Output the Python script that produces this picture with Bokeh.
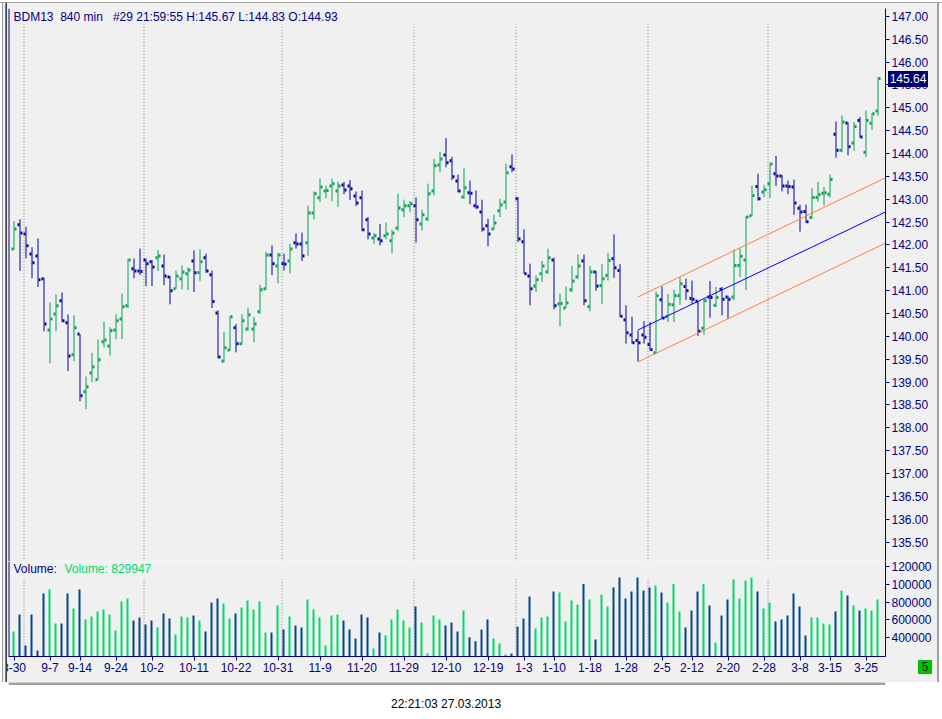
from bokeh.plotting import figure
from bokeh.models import ColumnDataSource, Range1d, FixedTicker, Label, Span, NumeralTickFormatter, Div
from bokeh.layouts import column
from bokeh.embed import file_html
from bokeh.resources import INLINE

# ---------------- data ----------------
opens = [141.91, 142.44, 142.24, 141.80, 141.76, 141.26, 140.14, 140.49, 140.78, 140.30,
         139.60, 140.05, 138.79, 139.20, 139.05, 139.88, 139.79, 140.14, 140.38, 140.67,
         141.48, 141.43, 141.67, 141.63, 141.72, 141.54, 141.30, 141.04, 141.26, 141.37,
         141.65, 141.39, 141.72, 141.35, 140.51, 139.46, 139.70, 140.19, 139.84, 140.16,
         140.16, 140.54, 141.04, 141.78, 141.54, 141.59, 141.65, 142.05, 142.02, 142.05,
         142.70, 143.03, 143.18, 143.29, 143.18, 143.31, 143.29, 143.07, 143.03, 142.55,
         142.15, 142.13, 142.20, 142.09, 142.37, 142.77, 142.86, 142.86, 142.46, 142.57,
         143.18, 143.75, 143.97, 143.84, 143.40, 143.05, 143.14, 142.86, 142.72, 142.42,
         142.35, 142.75, 142.94, 143.71, 143.01, 142.07, 141.32, 141.10, 141.37, 141.41,
         141.67, 140.71, 140.62, 141.02, 141.30, 141.65, 140.65, 141.41, 141.11, 141.33,
         141.70, 141.44, 140.36, 140.03, 139.91, 140.03, 139.82, 139.64, 140.80, 140.43,
         140.69, 140.89, 141.09, 140.83, 140.77, 140.18, 140.86, 140.68, 141.03, 140.86,
         140.86, 141.55, 141.67, 142.64, 143.28, 143.16, 143.34, 143.56, 143.51, 143.29,
         143.27, 142.80, 142.73, 142.60, 143.04, 143.13, 143.11, 144.42, 144.07, 144.67,
         144.23, 144.72, 144.03, 144.66, 144.93]
highs = [142.52, 142.56, 142.40, 141.95, 142.14, 141.28, 140.74, 140.92, 140.96, 140.48,
         140.46, 140.05, 139.12, 139.64, 139.93, 140.32, 140.20, 140.48, 140.94, 141.69,
         141.70, 141.92, 141.70, 141.67, 141.89, 141.79, 141.32, 141.44, 141.55, 141.51,
         141.88, 141.90, 141.81, 141.44, 140.57, 140.10, 140.45, 140.27, 140.48, 140.63,
         140.43, 141.13, 141.85, 141.99, 141.83, 141.81, 142.02, 142.25, 142.27, 142.86,
         143.17, 143.45, 143.30, 143.45, 143.38, 143.38, 143.42, 143.17, 143.19, 142.61,
         142.26, 142.46, 142.49, 142.33, 143.12, 142.99, 142.96, 143.04, 142.77, 143.34,
         143.88, 144.04, 144.34, 143.93, 143.54, 143.69, 143.41, 143.19, 142.99, 142.57,
         142.66, 143.01, 143.78, 143.98, 143.05, 142.34, 141.59, 141.33, 141.65, 141.92,
         141.72, 140.94, 141.09, 141.54, 141.79, 141.79, 141.54, 141.43, 141.58, 141.83,
         142.23, 141.58, 140.68, 140.43, 140.13, 140.33, 140.31, 140.98, 141.09, 140.93,
         141.02, 141.29, 141.26, 141.22, 140.77, 140.82, 141.21, 141.08, 141.08, 140.89,
         141.90, 141.92, 142.63, 143.30, 143.56, 143.31, 143.80, 143.95, 143.53, 143.41,
         143.43, 142.88, 142.88, 143.24, 143.38, 143.27, 143.54, 144.70, 144.83, 144.68,
         144.69, 144.80, 144.94, 144.88, 145.67]
lows = [141.89, 141.43, 141.71, 141.27, 141.08, 140.11, 139.41, 140.11, 140.31, 139.24,
        139.46, 138.58, 138.41, 139.00, 139.05, 139.76, 139.58, 139.94, 139.94, 140.62,
        141.27, 141.34, 141.10, 141.10, 141.43, 141.12, 140.70, 141.04, 141.03, 141.01,
        140.97, 141.21, 141.39, 140.62, 139.52, 139.43, 139.68, 139.65, 139.82, 140.12,
        139.87, 140.49, 141.02, 141.34, 141.16, 141.44, 141.38, 141.92, 141.65, 141.76,
        142.56, 142.94, 143.02, 142.96, 142.83, 143.11, 142.98, 142.85, 142.30, 142.12,
        142.02, 141.99, 142.12, 141.82, 142.31, 142.61, 142.72, 142.05, 142.32, 142.53,
        143.09, 143.59, 143.70, 143.42, 143.15, 143.01, 142.89, 142.79, 142.29, 141.97,
        142.33, 142.61, 142.78, 143.59, 142.06, 141.37, 140.68, 140.97, 141.19, 141.37,
        140.59, 140.22, 140.62, 140.97, 141.26, 140.68, 140.55, 141.00, 140.71, 141.22,
        141.28, 140.42, 139.84, 139.84, 139.45, 139.84, 139.69, 139.62, 140.38, 140.31,
        140.31, 140.69, 140.80, 140.71, 140.01, 140.04, 140.41, 140.64, 140.46, 140.38,
        140.79, 141.30, 141.01, 142.63, 142.97, 143.04, 143.03, 143.29, 143.17, 143.11,
        142.66, 142.29, 142.48, 142.57, 142.95, 142.86, 143.04, 143.91, 144.03, 143.96,
        144.06, 144.34, 143.92, 144.52, 144.83]
closes = [142.35, 142.26, 141.98, 141.61, 141.24, 140.27, 140.38, 140.67, 140.34, 139.57,
          140.19, 138.70, 138.90, 139.33, 139.49, 139.92, 140.12, 140.34, 140.65, 141.67,
          141.43, 141.42, 141.59, 141.52, 141.76, 141.32, 141.00, 141.32, 141.41, 141.45,
          141.39, 141.63, 141.43, 140.76, 139.55, 139.75, 140.43, 139.84, 140.34, 140.47,
          140.27, 141.02, 141.78, 141.59, 141.78, 141.58, 141.91, 142.02, 141.76, 142.70,
          143.12, 143.27, 143.19, 143.34, 143.29, 143.20, 143.23, 142.92, 142.33, 142.24,
          142.20, 142.09, 142.24, 142.26, 142.81, 142.86, 142.90, 142.55, 142.66, 143.12,
          143.73, 143.88, 143.80, 143.49, 143.18, 143.25, 143.13, 142.83, 142.35, 142.24,
          142.48, 142.88, 143.58, 143.66, 142.13, 141.37, 141.04, 141.24, 141.54, 141.72,
          140.67, 140.72, 140.73, 141.21, 141.54, 140.78, 141.41, 141.10, 141.26, 141.66,
          141.50, 140.44, 140.08, 139.86, 139.86, 139.98, 139.71, 140.89, 140.40, 140.70,
          140.89, 141.15, 141.00, 140.81, 140.11, 140.78, 140.85, 140.85, 140.81, 140.81,
          141.55, 141.75, 142.61, 143.08, 143.01, 143.21, 143.77, 143.51, 143.29, 143.28,
          142.92, 142.72, 142.51, 143.04, 143.10, 143.14, 143.43, 144.07, 144.69, 144.15,
          144.59, 144.36, 144.72, 144.87, 145.64]
volumes = [470000, 661000, 312000, 661000, 256000, 897000, 942000, 560000, 560000, 897000,
           728000, 942000, 605000, 638000, 694000, 717000, 661000, 481000, 807000, 840000,
           593000, 627000, 548000, 593000, 515000, 672000, 616000, 436000, 638000, 627000,
           650000, 593000, 470000, 796000, 840000, 784000, 616000, 672000, 739000, 818000,
           717000, 807000, 458000, 458000, 762000, 492000, 638000, 537000, 515000, 829000,
           717000, 627000, 312000, 650000, 661000, 593000, 492000, 391000, 661000, 627000,
           279000, 458000, 425000, 605000, 717000, 593000, 515000, 751000, 571000, 223000,
           650000, 605000, 537000, 571000, 470000, 706000, 406000, 361000, 492000, 605000,
           391000, 335000, 211000, 223000, 526000, 616000, 863000, 503000, 627000, 638000,
           919000, 908000, 582000, 818000, 773000, 1002000, 829000, 380000, 886000, 751000,
           964000, 1076000, 840000, 919000, 1076000, 930000, 964000, 987000, 908000, 796000,
           1002000, 694000, 515000, 706000, 919000, 1002000, 762000, 346000, 650000, 829000,
           1054000, 840000, 1043000, 1076000, 919000, 728000, 796000, 582000, 605000, 650000,
           897000, 751000, 425000, 627000, 627000, 560000, 548000, 694000, 930000, 874000,
           762000, 706000, 728000, 706000, 829947]

date_tick_index = [0, 6, 11, 17, 23, 30, 37, 44, 51, 58, 65, 72,
                   79, 85, 90, 96, 102, 108, 113, 119, 125, 131, 136, 142]
date_tick_labels = ["8-30", "9-7", "9-14", "9-24", "10-2", "10-11", "10-22", "10-31",
                    "11-9", "11-20", "11-29", "12-10", "12-19", "1-3", "1-10", "1-18",
                    "1-28", "2-5", "2-12", "2-20", "2-28", "3-8", "3-15", "3-25"]
month_start_index = [2, 22, 45, 67, 84, 106, 126]
price_ticks = [135.5, 136.0, 136.5, 137.0, 137.5, 138.0, 138.5, 139.0, 139.5, 140.0, 140.5, 141.0,
               141.5, 142.0, 142.5, 143.0, 143.5, 144.0, 144.5, 145.0, 145.5, 146.0, 146.5, 147.0]
volume_ticks = [400000, 600000, 800000, 1000000, 1200000]
volume_tick_labels = ["400000", "600000", "800000", "100000", "120000"]

channel_x = [104, 145.25]
channel_mid = [140.14, 142.72]
channel_upper = [140.86, 143.47]
channel_lower = [139.44, 142.04]

NB = "\u00a0"
title_text = "BDM13" + NB + " 840 min" + NB + NB + " #29 21:59:55 H:145.67 L:144.83 O:144.93"
volume_title = "Volume:"
volume_value_text = "Volume: 829947"
panel_number = "5"
footer_text = "22:21:03 27.03.2013"

# ---------------- styles ----------------
BG = "#F0F0F0"
NAVY = "#000080"
UP_BAR = "#00A050"
DOWN_BAR = "#0000A0"
UP_VOL = "#00D968"
DOWN_VOL = "#00468C"
TAG_BG = "#00006E"
FONT = "Liberation Sans"
PX_PER_BAR = 6.0
W = 942

n = len(closes)
idx = list(range(n))
up = [c >= o for o, c in zip(opens, closes)]
src = ColumnDataSource(dict(
    x=idx,
    x_open=[i - 1.5 / PX_PER_BAR for i in idx],
    x_close=[i + 1.5 / PX_PER_BAR for i in idx],
    x_vol=[i - 0.5 / PX_PER_BAR for i in idx],
    o=opens, h=highs, l=lows, c=closes, v=volumes,
    bar_color=[UP_BAR if u else DOWN_BAR for u in up],
    vol_color=[UP_VOL if u else DOWN_VOL for u in up],
))

x_start = -5.5 / PX_PER_BAR
x_range = Range1d(x_start, x_start + 877 / PX_PER_BAR)
title_x = x_start + 5 / PX_PER_BAR


def style_right_axis(ax):
    ax.axis_line_color = NAVY
    ax.major_tick_line_color = NAVY
    ax.major_tick_out = 4
    ax.major_tick_in = 0
    ax.minor_tick_line_color = None
    ax.major_label_text_color = NAVY
    ax.major_label_text_font_size = "12px"
    ax.major_label_text_font = FONT
    ax.major_label_standoff = 2


def overlay_box(text, w, h, bg, fg, margin):
    return Div(text=text, width=w, height=h, margin=margin,
               styles={"background-color": bg, "color": fg, "font-family": FONT,
                       "font-size": "12px", "line-height": "%dpx" % h, "text-align": "center",
                       "overflow": "hidden", "white-space": "nowrap"})


def frame_strip(w, h, margin, background):
    return Div(text="", width=w, height=h, margin=margin, styles={"background": background})


# ---------------- price pane ----------------
p = figure(width=W, height=561, output_backend="svg", toolbar_location=None,
           x_range=x_range, y_range=Range1d(135.074, 147.173),
           x_axis_location=None, y_axis_location="right",
           background_fill_color=BG, border_fill_color=BG,
           min_border_left=8, min_border_top=8, min_border_bottom=0, min_border_right=57)
p.title.visible = False
p.grid.visible = False
p.outline_line_color = None
p.yaxis[0].ticker = FixedTicker(ticks=price_ticks)
p.yaxis[0].formatter = NumeralTickFormatter(format="0.00")
style_right_axis(p.yaxis[0])

p.segment(x0=[m - 1 / 3 for m in month_start_index], x1=[m - 1 / 3 for m in month_start_index],
          y0=[135.0] * len(month_start_index), y1=[146.82] * len(month_start_index),
          line_color="#808080", line_width=1, line_dash="1 2")

p.segment(x0="x", x1="x", y0="l", y1="h", line_color="bar_color", line_width=1, source=src)
p.rect(x="x_open", y="o", width=2, height=3, width_units="screen", height_units="screen",
       fill_color="bar_color", line_color=None, source=src)
p.rect(x="x_close", y="c", width=2, height=3, width_units="screen", height_units="screen",
       fill_color="bar_color", line_color=None, source=src)

p.line(channel_x, channel_upper, line_color="#FF7F40", line_width=1)
p.line(channel_x, channel_lower, line_color="#FF7F40", line_width=1)
p.line(channel_x, channel_mid, line_color="#0000FF", line_width=1)

p.add_layout(Span(location=x_start, dimension="height", line_color=NAVY, line_width=2))
p.add_layout(Label(x=title_x, y=147.13, text=title_text, text_baseline="top",
                   text_font=FONT, text_font_size="12px", text_color=NAVY))

# last-price tag, overlapping the price axis (page x 888..928, y 71..87)
tag = overlay_box("%.2f" % closes[-1], 40, 16, TAG_BG, "white", (71 - 561, 0, 561 - 87, 888))

# ---------------- volume pane ----------------
pv = figure(width=W, height=121, output_backend="svg", toolbar_location=None,
            x_range=x_range, y_range=Range1d(188763, 1256180),
            y_axis_location="right",
            background_fill_color=BG, border_fill_color=BG,
            min_border_left=8, min_border_top=0, min_border_bottom=26, min_border_right=57)
pv.title.visible = False
pv.grid.visible = False
pv.outline_line_color = None
pv.yaxis[0].ticker = FixedTicker(ticks=volume_ticks)
pv.yaxis[0].major_label_overrides = {t: s for t, s in zip(volume_ticks, volume_tick_labels)}
style_right_axis(pv.yaxis[0])
xa = pv.xaxis[0]
xa.ticker = FixedTicker(ticks=date_tick_index)
xa.major_label_overrides = {t: s for t, s in zip(date_tick_index, date_tick_labels)}
xa.axis_line_color = NAVY
xa.axis_line_width = 1
xa.major_tick_line_color = NAVY
xa.major_tick_out = 4
xa.major_tick_in = 0
xa.minor_tick_line_color = None
xa.major_label_text_color = NAVY
xa.major_label_text_font_size = "12px"
xa.major_label_text_font = FONT
xa.major_label_standoff = 2

pv.segment(x0=[m - 1 / 3 for m in month_start_index], x1=[m - 1 / 3 for m in month_start_index],
           y0=[0] * len(month_start_index), y1=[1065000] * len(month_start_index),
           line_color="#808080", line_width=1, line_dash="1 2")
pv.vbar(x="x_vol", top="v", bottom=0, width=2 / PX_PER_BAR, fill_color="vol_color",
        line_color=None, source=src)
pv.add_layout(Span(location=x_start, dimension="height", line_color=NAVY, line_width=2))
pv.add_layout(Label(x=title_x, y=1245000, text=volume_title, text_baseline="top",
                    text_font=FONT, text_font_size="12px", text_color=NAVY))
pv.add_layout(Label(x=8.42, y=1245000, text=volume_value_text, text_baseline="top",
                    text_font=FONT, text_font_size="12px", text_color=UP_VOL))

# green pane-number box (page x 918..932, y 660..674)
box = overlay_box(panel_number, 14, 14, "#00C000", "#002000", (660 - 682, 0, 682 - 674, 918))

# window frame strips (right, left, top) drawn over the figure borders
frame_right = frame_strip(5, 682, (-682, 0, 0, 937),
                          "linear-gradient(to right, #A0A0A0 0 2px, #FFFFFF 2px)")
frame_left = frame_strip(7, 682, (-682, 0, 0, 0),
                         "linear-gradient(to right, #FFFFFF 0 2px, #A0A0A0 2px 3px, #F0F0F0 3px 5px,"
                         " #808080 5px 6px, #404040 6px)")
frame_top = frame_strip(W, 3, (-682, 0, 679, 0),
                        "linear-gradient(to bottom, #FFFFFF 0 2px, #A0A0A0 2px)")

# ---------------- footer ----------------
pf = figure(width=W, height=37, output_backend="svg", toolbar_location=None,
            x_range=Range1d(0, W), y_range=Range1d(0, 37),
            x_axis_location=None, y_axis_location=None,
            background_fill_color="white", border_fill_color="white",
            min_border=0, min_border_left=0, min_border_right=0,
            min_border_top=0, min_border_bottom=0)
pf.title.visible = False
pf.grid.visible = False
pf.outline_line_color = None
pf.add_layout(Span(location=36, dimension="width", line_color="#A0A0A0", line_width=3))
pf.add_layout(Label(x=470, y=16, text=footer_text, text_align="center", text_baseline="middle",
                    text_font=FONT, text_font_size="12px", text_color="black"))

layout = column(p, tag, pv, box, frame_right, frame_left, frame_top, pf, spacing=0)
open("out.html", "w").write(file_html(layout, INLINE))
